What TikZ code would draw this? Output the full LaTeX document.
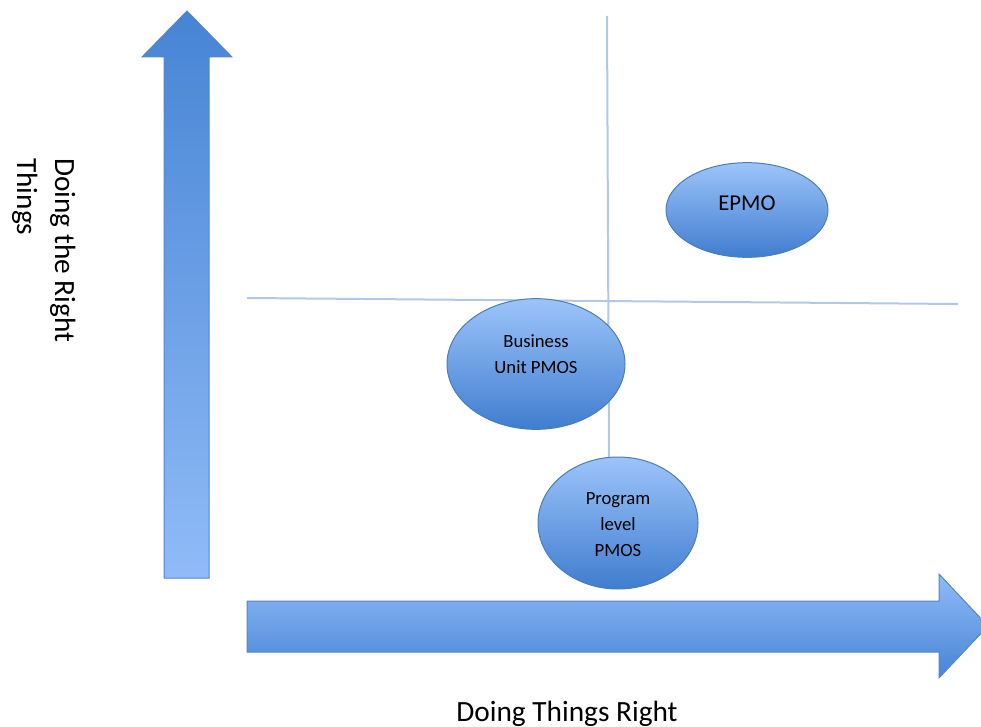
\documentclass[tikz,border=0pt]{standalone}
\usepackage{fontspec}
\setmainfont{Carlito}
\usetikzlibrary{shapes.geometric}
\definecolor{arrowdark}{RGB}{70,132,212}
\definecolor{arrowlight}{RGB}{144,187,247}
\definecolor{arrowedge}{RGB}{84,134,204}
\definecolor{balltop}{RGB}{156,196,250}
\definecolor{ballbottom}{RGB}{64,125,207}
\definecolor{balledge}{RGB}{74,126,187}
\definecolor{gridline}{RGB}{180,199,231}
\tikzset{
  axisarrow/.style={draw=arrowedge, line width=0.75pt, line join=miter},
  divider/.style={draw=gridline, line width=1.5pt},
  ball/.style={ellipse, draw=balledge, line width=0.75pt, inner sep=0pt,
    top color=balltop, bottom color=ballbottom},
  balltext/.style={inner sep=0pt, align=center, font=\fontsize{14}{19.5}\selectfont},
  axistext/.style={inner sep=0pt, font=\fontsize{22}{28}\selectfont}
}
\begin{document}
\begin{tikzpicture}[x=0.75pt, y=-0.75pt]
\useasboundingbox (0,0) rectangle (981,727);

% quadrant dividers
\coordinate (vtop) at (607,16);
\coordinate (vbot) at (609,460);
\coordinate (hleft) at (247,298);
\coordinate (hright) at (958,304);
\draw[divider] (vtop) -- (vbot);
\draw[divider] (hleft) -- (hright);

% vertical axis arrow
\path[axisarrow, top color=arrowdark, bottom color=arrowlight]
  (164,578) -- (164,57) -- (142,57) -- (187,11) -- (232,57) -- (209,57) -- (209,578) -- cycle;

% horizontal axis arrow
\path[axisarrow, top color=arrowlight, bottom color=arrowdark]
  (247,601) -- (939,601) -- (939,574) -- (988,626) -- (939,678) -- (939,652) -- (247,652) -- cycle;

% office types (sizes in pt: 1 unit = 0.75pt)
\node[ball, minimum width=121.5pt, minimum height=71pt] (epmo) at (747,210) {};
\node[ball, minimum width=133.5pt, minimum height=98pt] (bu) at (536,364) {};
\node[ball, minimum width=120pt, minimum height=99pt] (prog) at (618,523) {};

\node[inner sep=0pt, anchor=base, font=\fontsize{17}{20}\selectfont] (epmo-t) at (747,211) {EPMO};
\node[balltext, anchor=north] (bu-t) at (536,334) {Business\\Unit PMOS};
\node[balltext, anchor=north] (prog-t) at (618,492) {Program\\level\\PMOS};

% axis captions
\node[axistext, anchor=base] (xlabel) at (567,721) {Doing Things Right};
\node[axistext, rotate=-90, anchor=base west] (ylabel1) at (55,158) {Doing the Right};
\node[axistext, rotate=-90, anchor=base west] (ylabel2) at (17,158) {Things};
\end{tikzpicture}
\end{document}
